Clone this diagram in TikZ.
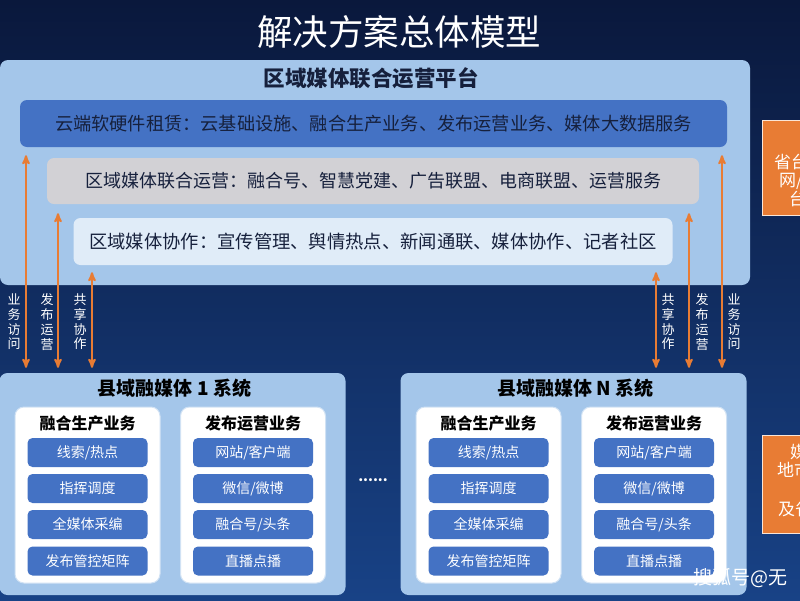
\documentclass[tikz,border=0pt]{standalone}
\usepackage{fontspec}
\setmainfont{Noto Sans CJK SC}
\usetikzlibrary{arrows,positioning}

\definecolor{navytop}{RGB}{10,24,60}
\definecolor{navybot}{RGB}{24,66,134}
\definecolor{panelblue}{RGB}{164,198,234}
\definecolor{office}{RGB}{68,114,196}
\definecolor{greyrow}{RGB}{210,209,213}
\definecolor{paleblue}{RGB}{224,236,248}
\definecolor{accent}{RGB}{232,124,52}
\definecolor{darktext}{RGB}{22,32,60}

\begin{document}
\begin{tikzpicture}[x=1pt,y=-1pt,>=stealth',
  panel/.style={fill=panelblue,rounded corners=8pt},
  band/.style={rounded corners=7pt,text=darktext,font=\fontsize{18}{20}\selectfont},
  group/.style={fill=white,draw=panelblue!50!white,line width=1pt,rounded corners=9pt,minimum width=145pt,minimum height=176pt},
  item/.style={fill=office,rounded corners=5pt,minimum width=120pt,minimum height=29pt,text=white,font=\fontsize{14}{16}\selectfont},
  head/.style={text=black,font=\bfseries\fontsize{16}{18}\selectfont},
  link/.style={<->,draw=accent,line width=2pt},
  side/.style={text=white,align=center,inner sep=0pt,font=\fontsize{13}{14.7}\selectfont},
  tag/.style={fill=accent,draw=white!80!accent,line width=1.2pt,anchor=north west,minimum width=80pt},
  frag/.style={text=white,anchor=west,inner sep=0pt,font=\fontsize{17}{17}\selectfont}
]
\clip (0,0) rectangle (800,600);
\shade[top color=navytop,bottom color=navybot] (0,0) rectangle (800,600);

% title
\node[text=white,font=\fontsize{35.5}{37}\selectfont] (title) at (399,32) {解决方案总体模型};

% define the platform and its three layers
\node[panel,minimum width=750pt,minimum height=225pt] (hub) at (375,172.5) {};
\node[text=darktext,font=\bfseries\fontsize{21.5}{23}\selectfont] (hubname) at (371,78) {区域媒体联合运营平台};
\node[band,fill=office,minimum width=707pt,minimum height=47pt,font=\fontsize{18.2}{20}\selectfont] (rent) at (373.5,123.5)
  {云端软硬件租赁：云基础设施、融合生产业务、发布运营业务、媒体大数据服务};
\node[band,fill=greyrow,minimum width=652pt,minimum height=46pt] (ops) at (373,181)
  {区域媒体联合运营：融合号、智慧党建、广告联盟、电商联盟、运营服务};
\node[band,fill=paleblue,minimum width=599pt,minimum height=47pt,font=\fontsize{18.3}{20}\selectfont] (coop) at (373,241.5)
  {区域媒体协作：宣传管理、舆情热点、新闻通联、媒体协作、记者社区};

% define the county systems
\foreach \sys/\cx/\num in {a/172.5/1,n/573.5/N}{
  \node[panel,minimum width=346pt,minimum height=222pt] (cty-\sys) at (\cx,484) {};
  \node[head,font=\bfseries\fontsize{19}{21}\selectfont] (ctyname-\sys) at (\cx+2,388) {县域融媒体 \num{} 系统};
  \node[group] (prod-\sys) at (\cx-85,495) {};
  \node[group] (pub-\sys) at (\cx+80.5,495) {};
  \node[head] (prodname-\sys) at (\cx-85,423) {融合生产业务};
  \node[head] (pubname-\sys) at (\cx+80.5,423) {发布运营业务};
  \foreach \k/\yy/\lt/\rt in {1/452.5/{线索/热点}/{网站/客户端},2/488.5/指挥调度/{微信/微博},
                              3/524.5/全媒体采编/{融合号/头条},4/561/发布管控矩阵/直播点播}{
    \node[item] (prod-\sys-\k) at (\cx-85,\yy) {\lt};
    \node[item] (pub-\sys-\k) at (\cx+80.5,\yy) {\rt};
  }
}
\node[text=white,font=\bfseries\fontsize{14}{14}\selectfont] (gap) at (373,480) {......};

% define the links
\coordinate (xa) at (26,0);  \coordinate (xb) at (58,0);  \coordinate (xc) at (92,0);
\coordinate (xd) at (656,0); \coordinate (xe) at (689,0); \coordinate (xf) at (722,0);
\draw[link,shorten <=8pt,shorten >=5pt] (rent.south -| xa) -- (cty-a.north -| xa);
\draw[link,shorten <=9pt,shorten >=5pt] (ops.south -| xb) -- (cty-a.north -| xb);
\draw[link,shorten <=7pt,shorten >=5pt] (coop.south -| xc) -- (cty-a.north -| xc);
\draw[link,shorten <=7pt,shorten >=5pt] (coop.south -| xd) -- (cty-n.north -| xd);
\draw[link,shorten <=9pt,shorten >=5pt] (ops.south -| xe) -- (cty-n.north -| xe);
\draw[link,shorten <=8pt,shorten >=5pt] (rent.south -| xf) -- (cty-n.north -| xf);

\node[side] (visit-a) at (14,322) {业\\务\\访\\问};
\node[side] (issue-a) at (47,322) {发\\布\\运\\营};
\node[side] (share-a) at (80,322) {共\\享\\协\\作};
\node[side] (share-n) at (668,322) {共\\享\\协\\作};
\node[side] (issue-n) at (702,322) {发\\布\\运\\营};
\node[side] (visit-n) at (734,322) {业\\务\\访\\问};

% define the cut-off boxes on the right
\node[tag,minimum height=95pt] (prov) at (762,120) {};
\node[frag] (prov-1) at (774,162) {省台};
\node[frag] (prov-2) at (779,181) {网/};
\node[frag] (prov-3) at (789,199) {台};
\node[tag,minimum height=98pt] (city) at (762,435) {};
\node[frag] (city-1) at (790,452) {媒};
\node[frag] (city-2) at (777,470) {地市};
\node[frag] (city-3) at (778,509) {及省};

\node[text=white,anchor=west,inner sep=0pt,font=\fontsize{19}{19}\selectfont] (mark) at (693,578) {搜狐号@无};
\end{tikzpicture}
\end{document}
